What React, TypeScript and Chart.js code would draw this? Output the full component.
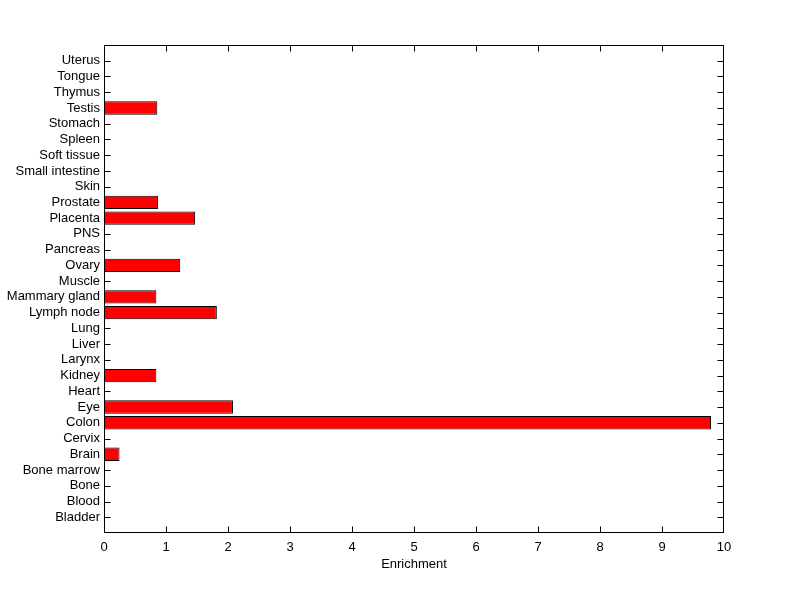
import React, { useEffect, useRef } from "react";
import { Chart, registerables } from "chart.js";

Chart.register(...registerables);

const tissues: string[] = [
  "Bladder", "Blood", "Bone", "Bone marrow", "Brain", "Cervix", "Colon", "Eye",
  "Heart", "Kidney", "Larynx", "Liver", "Lung", "Lymph node", "Mammary gland",
  "Muscle", "Ovary", "Pancreas", "PNS", "Placenta", "Prostate", "Skin",
  "Small intestine", "Soft tissue", "Spleen", "Stomach", "Testis", "Thymus",
  "Tongue", "Uterus",
];

const enrichment: number[] = [
  0, 0, 0, 0, 0.25, 0, 9.79, 2.08,
  0, 0.845, 0, 0, 0, 1.82, 0.845,
  0, 1.23, 0, 0, 1.47, 0.87, 0,
  0, 0, 0, 0, 0.86, 0,
  0, 0,
];

const xMin = 0;
const xMax = 10;
const xTitle = "Enrichment";

const FONT = { family: "'Liberation Sans', Arial, sans-serif", size: 13 };

function drawFrame(chart: any, withTicks: boolean) {
  const { ctx, chartArea } = chart;
  const xs = chart.scales.x;
  const ys = chart.scales.y;
  const L = Math.round(chartArea.left) + 0.5;
  const R = Math.round(chartArea.right) - 0.5;
  const T = Math.round(chartArea.top) + 0.5;
  const B = Math.round(chartArea.bottom) - 0.5;
  const tl = 6;
  ctx.save();
  ctx.strokeStyle = "#000";
  ctx.lineWidth = 1;
  ctx.beginPath();
  if (withTicks) {
    for (let i = 1; i <= tissues.length; i++) {
      const y = Math.round(ys.getPixelForValue(i)) + 0.5;
      ctx.moveTo(L, y);
      ctx.lineTo(L + tl, y);
      ctx.moveTo(R, y);
      ctx.lineTo(R - tl, y);
    }
    for (let v = xMin; v <= xMax; v++) {
      const x = Math.min(R, Math.max(L, Math.round(xs.getPixelForValue(v)) + 0.5));
      ctx.moveTo(x, B);
      ctx.lineTo(x, B - tl);
      ctx.moveTo(x, T);
      ctx.lineTo(x, T + tl);
    }
  }
  ctx.rect(L, T, R - L, B - T);
  ctx.stroke();
  ctx.restore();
}

const framePlugin = {
  id: "matlabFrame",
  beforeDatasetsDraw(chart: any) {
    drawFrame(chart, true);
  },
  afterDatasetsDraw(chart: any) {
    drawFrame(chart, false);
  },
};

export default function App() {
  const ref = useRef<HTMLCanvasElement | null>(null);
  useEffect(() => {
    if (!ref.current) return;
    const points = enrichment.map((v, i) => ({ x: v, y: i + 1 }));
    const chart = new Chart(ref.current, {
      type: "bar",
      data: {
        datasets: [
          {
            data: points,
            backgroundColor: "#ff0000",
            borderColor: "#000000",
            borderWidth: 1,
            borderSkipped: false,
            barPercentage: 0.85,
            categoryPercentage: 1,
          },
        ],
      },
      options: {
        indexAxis: "y",
        animation: false,
        responsive: false,
        devicePixelRatio: 1,
        layout: { padding: { top: 45, right: 76, left: 0, bottom: 0 } },
        plugins: {
          legend: { display: false },
          tooltip: { enabled: false },
          title: { display: false },
        },
        scales: {
          x: {
            type: "linear",
            position: "bottom",
            min: xMin,
            max: xMax,
            offset: false,
            grid: { display: false, drawTicks: false },
            border: { display: false },
            ticks: { stepSize: 1, color: "#000", font: FONT, padding: 7, maxRotation: 0 },
            title: { display: true, text: xTitle, color: "#000", font: FONT, padding: { top: 0, bottom: 27 } },
            afterFit: (s: any) => { s.height = 66; },
          },
          y: {
            type: "linear",
            min: 0,
            max: tissues.length + 1,
            offset: false,
            grid: { display: false, drawTicks: false, offset: false },
            border: { display: false },
            ticks: {
              stepSize: 1,
              autoSkip: false,
              color: "#000",
              font: FONT,
              padding: 4,
              callback: (v: any) => tissues[Number(v) - 1] ?? "",
            },
            afterFit: (s: any) => { s.width = 104; },
          },
        },
      },
      plugins: [framePlugin],
    } as any);
    return () => chart.destroy();
  }, []);
  return (
    <div style={{ position: "absolute", left: 0, top: 0, width: 800, height: 599, background: "#fff" }}>
      <canvas ref={ref} width={800} height={599} />
    </div>
  );
}
